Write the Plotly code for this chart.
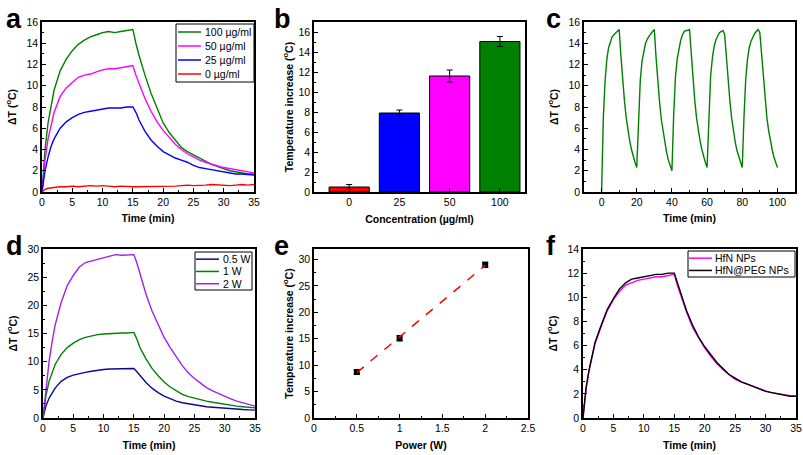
import plotly.graph_objects as go

W, H = 803, 455

# ---------------- data ----------------
t_heat = [0, 0.5, 1, 1.5, 2, 3, 4, 5, 6, 7, 8, 9, 10, 11, 12, 13, 14, 15, 15.5,
          16, 17, 18, 19, 20, 21, 22, 23, 24, 25, 26, 27, 28, 29, 30, 31, 32, 33, 34, 35]

a_names = ["100 µg/ml", "50 µg/ml", "25 µg/ml", "0 µg/ml"]
a_colors = ["#008000", "#ff00ff", "#0000ff", "#ff0000"]
a_100 = [0, 4.0, 6.5, 8.2, 9.6, 11.4, 12.5, 13.3, 13.9, 14.3, 14.6, 14.8, 15.0, 15.1, 15.0, 15.1, 15.2, 15.3, 14.0,
         12.9, 11.0, 9.3, 7.9, 6.5, 5.6, 4.9, 4.2, 3.8, 3.5, 3.2, 2.9, 2.6, 2.4, 2.2, 2.0, 1.9, 1.8, 1.7, 1.7]
a_50 = [0, 3.0, 5.0, 6.4, 7.5, 9.0, 9.8, 10.3, 10.8, 11.0, 11.1, 11.3, 11.5, 11.6, 11.6, 11.7, 11.8, 11.9, 11.0,
        10.2, 8.8, 7.6, 6.6, 5.8, 5.1, 4.5, 4.0, 3.6, 3.3, 3.0, 2.8, 2.6, 2.45, 2.3, 2.2, 2.1, 2.0, 1.9, 1.8]
a_25 = [0, 2.0, 3.3, 4.3, 5.0, 6.0, 6.6, 7.0, 7.3, 7.5, 7.6, 7.7, 7.8, 7.9, 7.9, 7.9, 8.0, 8.0, 7.5,
        6.8, 5.7, 4.9, 4.3, 3.8, 3.5, 3.2, 3.0, 2.8, 2.5, 2.3, 2.2, 2.1, 2.0, 1.9, 1.8, 1.7, 1.7, 1.65, 1.6]
a_0 = [0, 0.25, 0.35, 0.4, 0.45, 0.5, 0.5, 0.55, 0.5, 0.55, 0.6, 0.55, 0.6, 0.55, 0.5, 0.55, 0.5, 0.5, 0.5,
       0.5, 0.55, 0.5, 0.55, 0.55, 0.5, 0.55, 0.6, 0.65, 0.6, 0.6, 0.65, 0.7, 0.65, 0.65, 0.6, 0.65, 0.7, 0.65, 0.7]

b_pos = [0, 1, 2, 3]
b_labels = ["0", "25", "50", "100"]
b_vals = [0.5, 7.9, 11.6, 15.05]
b_err = [0.25, 0.3, 0.6, 0.5]
b_colors = ["#ff0000", "#0000ff", "#ff00ff", "#008000"]

c_time = list(range(0, 101))
c_vals = [0, 7.0, 10.5, 12.5, 13.6, 14.2, 14.6, 14.8, 15.0, 15.1, 15.3,
          12.8, 10.5, 8.6, 7.0, 5.8, 4.8, 4.0, 3.3, 2.8, 2.3,
          7.0, 10.5, 12.3, 13.3, 14.0, 14.4, 14.7, 14.9, 15.1, 15.3,
          12.6, 10.3, 8.4, 6.8, 5.6, 4.6, 3.7, 3.0, 2.5, 2.0,
          7.2, 10.8, 12.5, 13.6, 14.3, 14.8, 15.1, 15.2, 15.2, 15.3,
          12.8, 10.5, 8.6, 7.0, 5.8, 4.8, 4.0, 3.3, 2.8, 2.3,
          7.3, 10.9, 12.6, 13.7, 14.3, 14.7, 15.0, 15.1, 15.2, 14.8,
          12.5, 10.3, 8.5, 6.9, 5.7, 4.7, 3.9, 3.3, 2.8, 2.3,
          7.1, 10.7, 12.5, 13.6, 14.2, 14.6, 14.9, 15.1, 15.3, 15.0,
          12.9, 10.6, 8.6, 7.0, 5.8, 4.8, 4.0, 3.3, 2.8, 2.3]

d_names = ["0.5 W", "1 W", "2 W"]
d_colors = ["#0a0a8a", "#008000", "#a020f0"]
d_2w = [0, 5.5, 10.0, 13.5, 16.5, 20.5, 23.5, 25.3, 26.8, 27.6, 27.9, 28.2, 28.5, 28.8, 29.0, 28.9, 29.0, 29.0, 27.5,
        25.5, 22.0, 19.0, 16.5, 14.3, 12.5, 10.8, 9.3, 8.0, 7.0, 6.2, 5.4, 4.8, 4.3, 3.8, 3.4, 3.0, 2.7, 2.4, 2.1]
d_1w = [0, 4.0, 6.5, 8.2, 9.5, 11.3, 12.5, 13.3, 13.9, 14.3, 14.6, 14.8, 14.9, 15.0, 15.0, 15.1, 15.1, 15.2, 14.0,
        12.5, 10.5, 8.8, 7.5, 6.4, 5.5, 4.8, 4.2, 3.8, 3.5, 3.2, 3.0, 2.8, 2.6, 2.4, 2.2, 2.1, 2.0, 1.9, 1.8]
d_05w = [0, 2.2, 3.5, 4.5, 5.3, 6.5, 7.2, 7.6, 7.9, 8.1, 8.3, 8.5, 8.6, 8.7, 8.7, 8.7, 8.8, 8.8, 8.2,
         7.5, 6.3, 5.3, 4.5, 3.9, 3.4, 3.0, 2.7, 2.5, 2.3, 2.1, 2.0, 1.9, 1.8, 1.7, 1.6, 1.55, 1.5, 1.45, 1.4]

e_power = [0.5, 1, 2]
e_vals = [8.7, 15.1, 29.0]
e_err = [0.4, 0.5, 0.5]
e_fit_x = [0.5, 2.0]
e_fit_y = [8.6, 28.9]

f_names = ["HfN NPs", "HfN@PEG NPs"]
f_colors = ["#ff00ff", "#000000"]
f_hfn = [0, 2.4, 3.9, 5.2, 6.2, 7.6, 8.9, 9.8, 10.5, 11.0, 11.2, 11.4, 11.5, 11.6, 11.7, 11.7, 11.8, 11.9, 11.0,
         10.2, 8.8, 7.5, 6.6, 5.8, 5.1, 4.5, 4.0, 3.6, 3.2, 3.0, 2.8, 2.6, 2.4, 2.25, 2.1, 2.0, 1.9, 1.85, 1.8]
f_peg = [0, 2.5, 4.0, 5.3, 6.3, 7.7, 9.0, 9.9, 10.7, 11.2, 11.5, 11.6, 11.7, 11.8, 11.9, 11.9, 12.0, 12.0, 11.2,
         10.3, 8.9, 7.7, 6.7, 5.9, 5.2, 4.6, 4.1, 3.6, 3.3, 3.0, 2.8, 2.6, 2.4, 2.2, 2.1, 2.0, 1.9, 1.8, 1.8]

# ---------------- layout helpers ----------------
FONT = "Liberation Sans, Arial, sans-serif"


def px_x(p):
    return p / W


def px_y(p):
    return 1 - p / H


def axis(dom, anchor, rng, dtick, minor_dtick, title=None, tickvals=None, ticktext=None, standoff=4):
    d = dict(domain=dom, anchor=anchor, range=rng, showline=True, linecolor="black", linewidth=1.5,
             mirror=True, ticks="inside", ticklen=4, tickwidth=1, tickcolor="black",
             showgrid=False, zeroline=False, tickfont=dict(family=FONT, size=10.5, color="black"),
             fixedrange=True, automargin=False)
    if tickvals is not None:
        d.update(tickmode="array", tickvals=tickvals, ticktext=ticktext)
    else:
        d.update(dtick=dtick, tick0=0)
        if minor_dtick:
            d["minor"] = dict(dtick=minor_dtick, ticks="inside", ticklen=2, tickcolor="black", showgrid=False)
    if title:
        d["title"] = dict(text=title, font=dict(family=FONT, size=10.5, color="black"), standoff=standoff)
    return d


rowA = [px_y(192), px_y(22)]
rowB = [px_y(418), px_y(249)]

DT = "<b>ΔT (<sup>o</sup>C)</b>"
TI = "<b>Temperature increase (<sup>o</sup>C)</b>"
TM = "<b>Time (min)</b>"

fig = go.Figure()

# a
for name, vals, col in zip(a_names, [a_100, a_50, a_25, a_0], a_colors):
    fig.add_trace(go.Scatter(x=t_heat, y=vals, mode="lines", name=name, line=dict(color=col, width=1.4),
                             xaxis="x", yaxis="y", showlegend=False))

# b
fig.add_trace(go.Bar(x=b_pos, y=b_vals, width=0.8, marker=dict(color=b_colors, line=dict(color="black", width=1)),
                     error_y=dict(type="data", array=b_err, color="black", thickness=1, width=3),
                     showlegend=False, xaxis="x2", yaxis="y2"))

# c
fig.add_trace(go.Scatter(x=c_time, y=c_vals, mode="lines", line=dict(color="#008000", width=1.4),
                         showlegend=False, xaxis="x3", yaxis="y3"))

# d
for name, vals, col in zip(d_names, [d_05w, d_1w, d_2w], d_colors):
    fig.add_trace(go.Scatter(x=t_heat, y=vals, mode="lines", name=name, line=dict(color=col, width=1.4),
                             xaxis="x4", yaxis="y4", showlegend=False))

# e
fig.add_trace(go.Scatter(x=e_power, y=e_vals, mode="markers",
                         marker=dict(symbol="square", size=6, color="black"),
                         error_y=dict(type="data", array=e_err, color="black", thickness=1, width=3),
                         showlegend=False, xaxis="x5", yaxis="y5"))
fig.add_trace(go.Scatter(x=e_fit_x, y=e_fit_y, mode="lines", line=dict(color="#ff0000", width=1.5, dash="dash"),
                         showlegend=False, xaxis="x5", yaxis="y5"))

# f
for name, vals, col in zip(f_names, [f_hfn, f_peg], f_colors):
    fig.add_trace(go.Scatter(x=t_heat, y=vals, mode="lines", name=name, line=dict(color=col, width=1.4),
                             xaxis="x6", yaxis="y6", showlegend=False))

colA = [px_x(42), px_x(254)]
colB = [px_x(314), px_x(525)]
colC = [px_x(584), px_x(795)]
colD = [px_x(43), px_x(255)]
colE = [px_x(314), px_x(528)]
colF = [px_x(583), px_x(796)]

fig.update_layout(
    width=W, height=H, margin=dict(l=0, r=0, t=0, b=0),
    paper_bgcolor="white", plot_bgcolor="white",
    font=dict(family=FONT, color="black"),
    showlegend=False,
    xaxis=axis(colA, "y", [0, 35], 5, 2.5, TM, standoff=7),
    yaxis=axis(rowA, "x", [0, 16], 2, 1, DT, standoff=8),
    xaxis2=axis(colB, "y2", [-0.7, 3.5], None, None, "<b>Concentration (µg/ml)</b>", tickvals=b_pos,
                ticktext=b_labels, standoff=8),
    yaxis2=axis(rowA, "x2", [0, 17], 2, 1, TI, standoff=3),
    xaxis3=axis(colC, "y3", [-10, 110], 20, 10, TM, standoff=7),
    yaxis3=axis(rowA, "x3", [0, 16], 2, 1, DT, standoff=8),
    xaxis4=axis(colD, "y4", [0, 35], 5, 2.5, TM, standoff=8),
    yaxis4=axis(rowB, "x4", [0, 30], 5, 2.5, DT, standoff=8),
    xaxis5=axis(colE, "y5", [0, 2.5], 0.5, 0.25, "<b>Power (W)</b>", standoff=8),
    yaxis5=axis(rowB, "x5", [0, 32], 5, 2.5, TI, standoff=3),
    xaxis6=axis(colF, "y6", [0, 35], 5, 2.5, TM, standoff=8),
    yaxis6=axis(rowB, "x6", [0, 14], 2, 1, DT, standoff=8),
)


# compact framed legends (Origin style)
def legend_box(names, colors, x0, y0, x1, y1, line_x0, line_x1, text_x, item_h):
    fig.add_shape(type="rect", xref="paper", yref="paper", x0=px_x(x0), x1=px_x(x1), y0=px_y(y0), y1=px_y(y1),
                  line=dict(color="black", width=1), fillcolor="white", layer="above")
    for i, (nm, col) in enumerate(zip(names, colors)):
        yc = y0 + item_h * (i + 0.5) + 1
        fig.add_shape(type="line", xref="paper", yref="paper", x0=px_x(line_x0), x1=px_x(line_x1),
                      y0=px_y(yc), y1=px_y(yc), line=dict(color=col, width=1.5), layer="above")
        fig.add_annotation(text=nm, x=px_x(text_x), y=px_y(yc), xref="paper", yref="paper",
                           xanchor="left", yanchor="middle", showarrow=False,
                           font=dict(family=FONT, size=10.5, color="black"))


legend_box(a_names, a_colors, 176, 24, 254, 82, 178, 201, 203, 14)
legend_box(d_names, d_colors, 195, 252, 252, 290, 196, 219, 221, 12.3)
legend_box(f_names, f_colors, 688, 251, 795, 277, 689, 712, 713, 12.3)

for letter, x, y in [("a", 4, 2), ("b", 272, 2), ("c", 544, 2), ("d", 4, 229), ("e", 272, 229), ("f", 544, 229)]:
    fig.add_annotation(text="<b>%s</b>" % letter, x=px_x(x), y=px_y(y), xref="paper", yref="paper",
                       xanchor="left", yanchor="top", showarrow=False,
                       font=dict(family=FONT, size=27, color="black"))

fig.write_html("out.html", config={"displayModeBar": False},
               post_script="document.body.style.margin='0px';document.body.style.overflow='hidden';")
